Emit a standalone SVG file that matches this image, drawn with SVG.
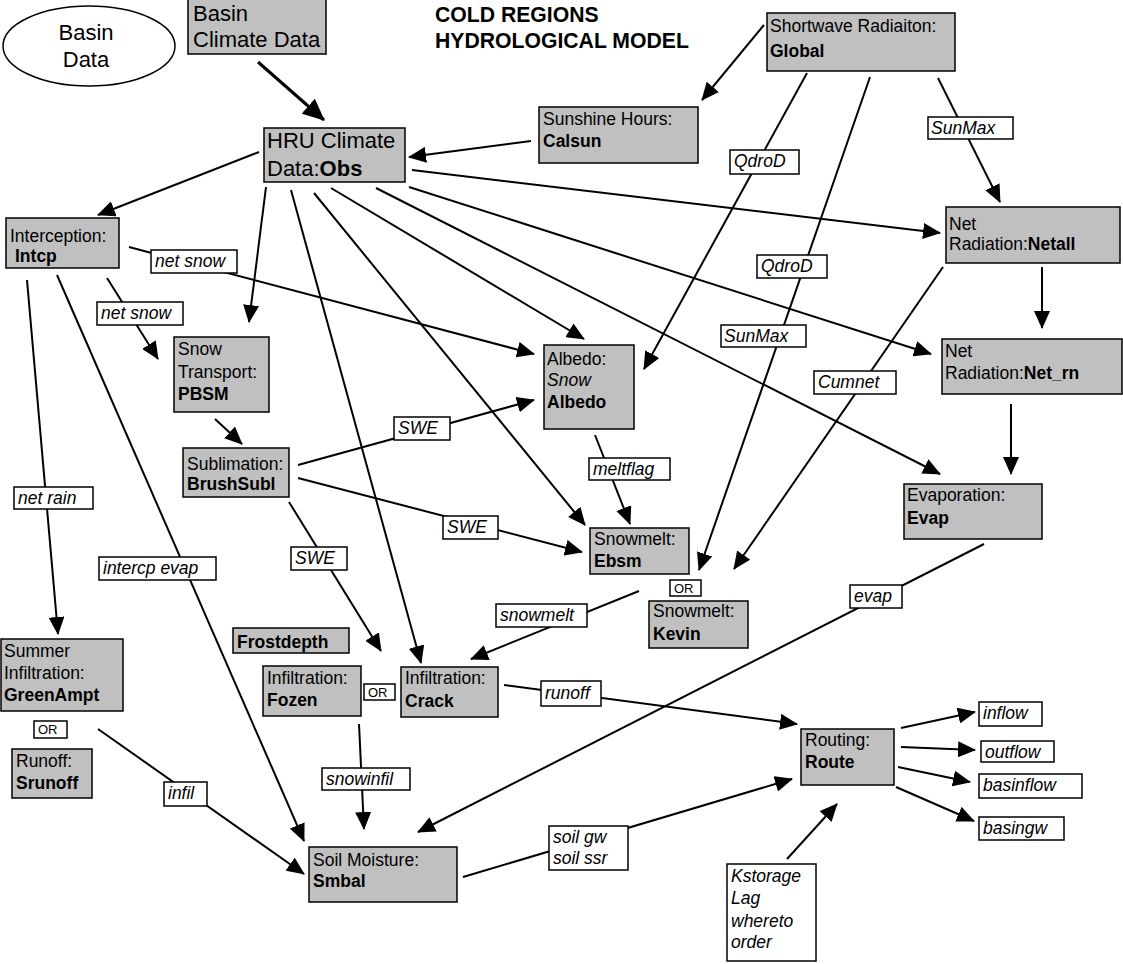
<svg xmlns="http://www.w3.org/2000/svg" width="1123" height="964" viewBox="0 0 1123 964">
<style>
text{font-family:"Liberation Sans",Arial,sans-serif;font-size:17.5px;fill:#000}
.big{font-size:22px}
.b{font-weight:bold}
.i{font-style:italic}
.ttl{font-size:21.2px;font-weight:bold}
.or{font-size:13px}
.n{fill:#c0c0c0;stroke:#000;stroke-width:1.5}
.w{fill:#fff;stroke:#000;stroke-width:1.5}
.c line{stroke:#000;stroke-width:2;fill:none;marker-end:url(#ah)}
</style>
<defs>
<marker id="ah" markerUnits="userSpaceOnUse" markerWidth="18" markerHeight="16" refX="17" refY="8" orient="auto">
<path d="M0,0 L18,8 L0,16 z" fill="#000"/>
</marker>
<marker id="ahb" markerUnits="userSpaceOnUse" markerWidth="22" markerHeight="20" refX="21" refY="10" orient="auto">
<path d="M0,0 L22,10 L0,20 z" fill="#000"/>
</marker>
</defs>
<rect width="1123" height="964" fill="#fff"/>
<g id="connectors" class="c">
<line x1="258" y1="62" x2="324" y2="120" style="stroke-width:3;marker-end:url(#ahb)"/>
<line x1="531" y1="141" x2="409" y2="157"/>
<line x1="764" y1="25" x2="702" y2="100"/>
<line x1="259" y1="152" x2="98" y2="215"/>
<line x1="266" y1="187" x2="249" y2="322"/>
<line x1="291" y1="190" x2="421" y2="663"/>
<line x1="314" y1="193" x2="585" y2="525"/>
<line x1="331" y1="188" x2="584" y2="339"/>
<line x1="376" y1="188" x2="940" y2="474"/>
<line x1="409" y1="187" x2="931" y2="354"/>
<line x1="412" y1="170" x2="940" y2="233"/>
<line x1="807" y1="73" x2="644" y2="369"/>
<line x1="870" y1="77" x2="699" y2="570"/>
<line x1="938" y1="78" x2="1000" y2="202"/>
<line x1="1042" y1="267" x2="1042" y2="328"/>
<line x1="943" y1="267" x2="734" y2="569"/>
<line x1="1011" y1="404" x2="1011" y2="474"/>
<line x1="984" y1="544" x2="418" y2="832"/>
<line x1="129" y1="247" x2="534" y2="354"/>
<line x1="107" y1="278" x2="158" y2="359"/>
<line x1="27" y1="280" x2="58" y2="634"/>
<line x1="57" y1="275" x2="304" y2="841"/>
<line x1="215" y1="419" x2="242" y2="444"/>
<line x1="298" y1="465" x2="534" y2="400"/>
<line x1="298" y1="478" x2="582" y2="552"/>
<line x1="289" y1="502" x2="381" y2="651"/>
<line x1="595" y1="435" x2="630" y2="524"/>
<line x1="639" y1="591" x2="471" y2="659"/>
<line x1="504" y1="685" x2="797" y2="724"/>
<line x1="359" y1="724" x2="364" y2="829"/>
<line x1="98" y1="729" x2="304" y2="874"/>
<line x1="463" y1="877" x2="792" y2="779"/>
<line x1="787" y1="859" x2="837" y2="804"/>
<line x1="901" y1="728" x2="975" y2="712"/>
<line x1="901" y1="747" x2="975" y2="750"/>
<line x1="898" y1="767" x2="970" y2="782"/>
<line x1="896" y1="787" x2="974" y2="821"/>
<g id="labels">
<rect class="w" x="151" y="250" width="86" height="23"/><text class="i" x="155" y="267">net snow</text>
<rect class="w" x="97" y="302" width="86" height="23"/><text class="i" x="101" y="319">net snow</text>
<rect class="w" x="730" y="150" width="69" height="24"/><text class="i" x="734" y="167">QdroD</text>
<rect class="w" x="757" y="255" width="70" height="23"/><text class="i" x="761" y="272">QdroD</text>
<rect class="w" x="928" y="117" width="85" height="22"/><text class="i" x="931" y="134">SunMax</text>
<rect class="w" x="721" y="325" width="85" height="22"/><text class="i" x="724" y="342">SunMax</text>
<rect class="w" x="814" y="371" width="82" height="23"/><text class="i" x="818" y="388">Cumnet</text>
<rect class="w" x="394" y="417" width="56" height="23"/><text class="i" x="398" y="434">SWE</text>
<rect class="w" x="443" y="516" width="55" height="23"/><text class="i" x="447" y="533">SWE</text>
<rect class="w" x="291" y="547" width="56" height="23"/><text class="i" x="295" y="564">SWE</text>
<rect class="w" x="589" y="458" width="81" height="22"/><text class="i" x="593" y="475">meltflag</text>
<rect class="w" x="14" y="487" width="79" height="22"/><text class="i" x="18" y="504">net rain</text>
<rect class="w" x="99" y="557" width="117" height="23"/><text class="i" x="103" y="574">intercp evap</text>
<rect class="w" x="496" y="604" width="91" height="23"/><text class="i" x="500" y="621">snowmelt</text>
<rect class="w" x="850" y="585" width="52" height="23"/><text class="i" x="854" y="602">evap</text>
<rect class="w" x="541" y="681" width="60" height="25"/><text class="i" x="545" y="699">runoff</text>
<rect class="w" x="322" y="768" width="88" height="22"/><text class="i" x="326" y="785">snowinfil</text>
<rect class="w" x="164" y="782" width="43" height="24"/><text class="i" x="168" y="799">infil</text>
<rect class="w" x="549" y="826" width="79" height="44"/><text class="i" x="553" y="843">soil gw</text><text class="i" x="553" y="864">soil ssr</text>
</g>
</g>
<g id="basin-data"><ellipse cx="89" cy="46" rx="86" ry="40" fill="#fff" stroke="#000" stroke-width="1.5"/><text class="big" x="86" y="40" text-anchor="middle">Basin</text><text class="big" x="86" y="67" text-anchor="middle">Data</text></g>
<g id="basin-climate"><rect class="n" x="188" y="-1" width="138" height="55"/><text class="big" x="193" y="21">Basin</text><text class="big" x="193" y="47">Climate Data</text></g>
<g id="title"><text class="ttl" x="435" y="22">COLD REGIONS</text><text class="ttl" x="435" y="48">HYDROLOGICAL MODEL</text></g>
<g id="hru"><rect class="n" x="264" y="128" width="141" height="54"/><text class="big" x="267" y="148">HRU Climate</text><text class="big" x="267" y="176">Data:<tspan class="b">Obs</tspan></text></g>
<g id="sunshine"><rect class="n" x="539" y="107" width="159" height="56"/><text x="543" y="125">Sunshine Hours:</text><text class="b" x="543" y="147">Calsun</text></g>
<g id="shortwave"><rect class="n" x="767" y="13" width="188" height="58"/><text x="770" y="32">Shortwave Radiaiton:</text><text class="b" x="770" y="57">Global</text></g>
<g id="intcp"><rect class="n" x="6" y="218" width="113" height="50"/><text x="10" y="242">Interception:</text><text class="b" x="15" y="262">Intcp</text></g>
<g id="netall"><rect class="n" x="946" y="207" width="174" height="56"/><text x="949" y="230">Net</text><text x="949" y="250">Radiation:<tspan class="b">Netall</tspan></text></g>
<g id="pbsm"><rect class="n" x="174" y="337" width="95" height="75"/><text x="178" y="355">Snow</text><text x="178" y="378">Transport:</text><text class="b" x="178" y="400">PBSM</text></g>
<g id="albedo"><rect class="n" x="544" y="345" width="90" height="84"/><text x="547" y="365">Albedo:</text><text class="i" x="547" y="386">Snow</text><text class="b" x="547" y="408">Albedo</text></g>
<g id="netrn"><rect class="n" x="942" y="339" width="180" height="55"/><text x="945" y="357">Net</text><text x="945" y="379">Radiation:<tspan class="b">Net_rn</tspan></text></g>
<g id="brushsubl"><rect class="n" x="183" y="448" width="106" height="49"/><text x="187" y="470">Sublimation:</text><text class="b" x="187" y="490">BrushSubl</text></g>
<g id="evap"><rect class="n" x="904" y="484" width="138" height="55"/><text x="907" y="501">Evaporation:</text><text class="b" x="907" y="524">Evap</text></g>
<g id="ebsm"><rect class="n" x="590" y="528" width="99" height="46"/><text x="594" y="545">Snowmelt:</text><text class="b" x="594" y="567">Ebsm</text></g>
<g id="or1"><rect class="w" x="670" y="580" width="31" height="16"/><text class="or" x="674" y="593">OR</text></g>
<g id="kevin"><rect class="n" x="649" y="601" width="99" height="47"/><text x="653" y="617">Snowmelt:</text><text class="b" x="653" y="640">Kevin</text></g>
<g id="greenampt"><rect class="n" x="1" y="639" width="122" height="72"/><text x="4" y="657">Summer</text><text x="4" y="679">Infiltration:</text><text class="b" x="4" y="701">GreenAmpt</text></g>
<g id="frostdepth"><rect class="n" x="233" y="628" width="116" height="25"/><text class="b" x="237" y="648">Frostdepth</text></g>
<g id="fozen"><rect class="n" x="263" y="666" width="98" height="50"/><text x="267" y="684">Infiltration:</text><text class="b" x="267" y="706">Fozen</text></g>
<g id="or2"><rect class="w" x="364" y="684" width="31" height="16"/><text class="or" x="368" y="697">OR</text></g>
<g id="crack"><rect class="n" x="401" y="667" width="97" height="50"/><text x="405" y="684">Infiltration:</text><text class="b" x="405" y="707">Crack</text></g>
<g id="or3"><rect class="w" x="34" y="721" width="33" height="17"/><text class="or" x="38" y="734">OR</text></g>
<g id="srunoff"><rect class="n" x="12" y="749" width="80" height="49"/><text x="16" y="767">Runoff:</text><text class="b" x="16" y="789">Srunoff</text></g>
<g id="route"><rect class="n" x="801" y="729" width="93" height="56"/><text x="805" y="746">Routing:</text><text class="b" x="805" y="768">Route</text></g>
<g id="smbal"><rect class="n" x="309" y="847" width="148" height="55"/><text x="313" y="866">Soil Moisture:</text><text class="b" x="313" y="887">Smbal</text></g>
<g id="params"><rect class="w" x="727" y="864" width="89" height="97"/><text class="i" x="731" y="882">Kstorage</text><text class="i" x="731" y="904">Lag</text><text class="i" x="731" y="927">whereto</text><text class="i" x="731" y="948">order</text></g>
<g id="inflow"><rect class="w" x="979" y="702" width="63" height="24"/><text class="i" x="983" y="719">inflow</text></g>
<g id="outflow"><rect class="w" x="981" y="741" width="73" height="21"/><text class="i" x="985" y="758">outflow</text></g>
<g id="basinflow"><rect class="w" x="979" y="774" width="103" height="24"/><text class="i" x="983" y="791">basinflow</text></g>
<g id="basingw"><rect class="w" x="979" y="817" width="85" height="23"/><text class="i" x="983" y="834">basingw</text></g>
</svg>
